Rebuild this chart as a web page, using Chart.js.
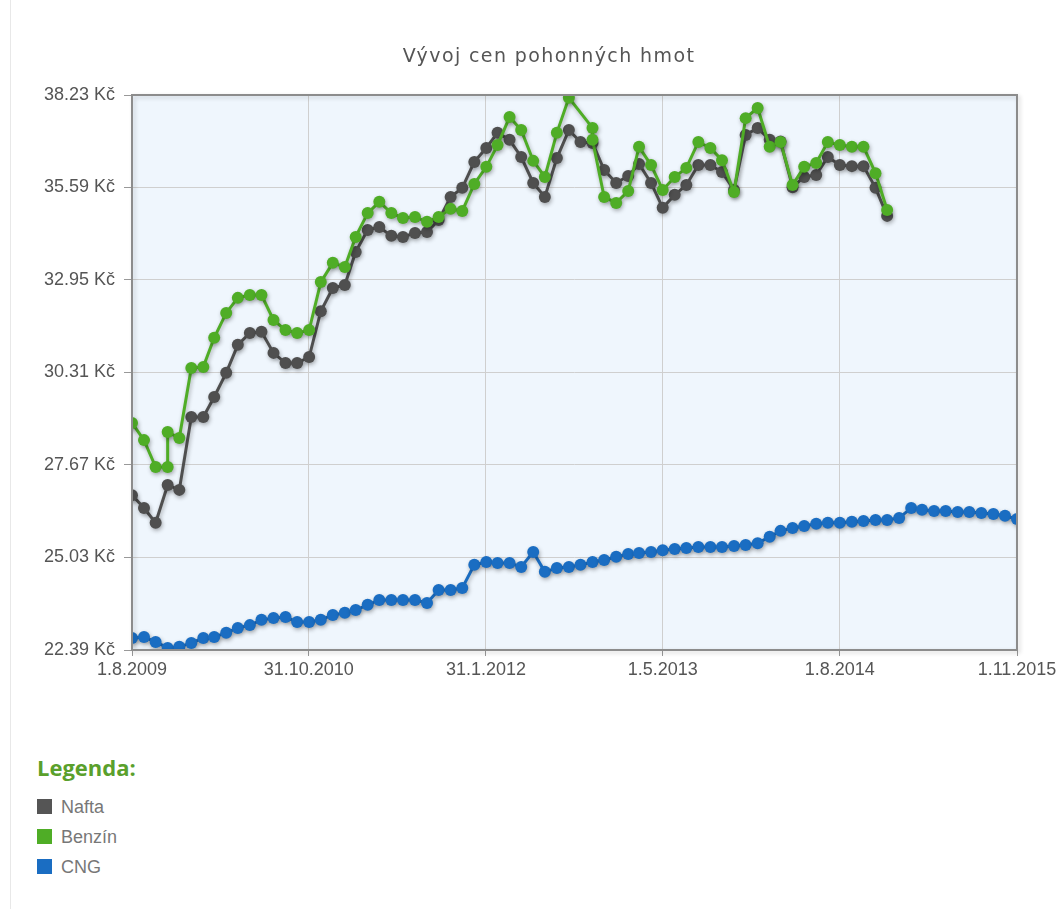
<!DOCTYPE html>
<html>
<head>
<meta charset="utf-8">
<title>Vývoj cen pohonných hmot</title>
<script src="https://cdn.jsdelivr.net/npm/chart.js@4.4.1/dist/chart.umd.min.js"></script>
<style>
  body { margin: 0; background: #fff; font-family: "Liberation Sans", Arial, sans-serif; }
  #page { position: relative; width: 1064px; height: 909px; overflow: hidden; }
  #edge { position: absolute; left: 10px; top: 0; width: 1px; height: 909px; background: #e8e8e8; }
  #chartTitle { position: absolute; left: 0; top: 43px; width: 1098px; text-align: center; font-family: "DejaVu Sans", sans-serif; font-size: 19px; letter-spacing: 1.4px; line-height: 24px; color: #555; }
  #chartBox { position: absolute; left: 0; top: 0; width: 1064px; height: 690px; }
  #legend { position: absolute; left: 37px; top: 752px; }
  #legend h3 { margin: 0 0 10px 0; font-family: "Open Sans", sans-serif; font-size: 22px; font-weight: bold; color: #5aa02c; line-height: 30px; }
  #legend ul { list-style: none; margin: 0; padding: 0; }
  #legend li { height: 30px; line-height: 30px; font-size: 18px; color: #777; }
  #legend li span { display: inline-block; width: 15px; height: 15px; margin-right: 9px; vertical-align: -1px; }
</style>
</head>
<body>
<div id="page">
  <div id="edge"></div>
  <div id="chartBox"><canvas id="fuelChart" width="1064" height="690"></canvas></div>
  <div id="chartTitle">Vývoj cen pohonných hmot</div>
  <div id="legend">
    <h3>Legenda:</h3>
    <ul id="legendItems"></ul>
  </div>
</div>
<script>
// ceny v Kč za litr (kg u CNG)
const naftaDates = [
  "1.8.2009", "1.9.2009", "1.10.2009", "1.11.2009", "1.12.2009",
  "1.1.2010", "1.2.2010", "1.3.2010", "1.4.2010", "1.5.2010", "1.6.2010", "1.7.2010", "1.8.2010", "1.9.2010", "1.10.2010", "1.11.2010", "1.12.2010",
  "1.1.2011", "1.2.2011", "1.3.2011", "1.4.2011", "1.5.2011", "1.6.2011", "1.7.2011", "1.8.2011", "1.9.2011", "1.10.2011", "1.11.2011", "1.12.2011",
  "1.1.2012", "1.2.2012", "1.3.2012", "1.4.2012", "1.5.2012", "1.6.2012", "1.7.2012", "1.8.2012", "1.9.2012", "1.10.2012", "1.11.2012", "1.12.2012",
  "1.1.2013", "1.2.2013", "1.3.2013", "1.4.2013", "1.5.2013", "1.6.2013", "1.7.2013", "1.8.2013", "1.9.2013", "1.10.2013", "1.11.2013", "1.12.2013",
  "1.1.2014", "1.2.2014", "1.3.2014", "1.4.2014", "1.5.2014", "1.6.2014", "1.7.2014", "1.8.2014", "1.9.2014", "1.10.2014", "1.11.2014", "1.12.2014"
];
const naftaValues = [
  26.81, 26.44, 26.02, 27.10, 26.96,
  29.04, 29.04, 29.61, 30.30, 31.10, 31.44, 31.47, 30.87, 30.58, 30.58, 30.75, 32.06,
  32.72, 32.81, 33.75, 34.38, 34.46, 34.21, 34.18, 34.29, 34.32, 34.66, 35.32, 35.58,
  36.32, 36.72, 37.15, 36.95, 36.46, 35.72, 35.32, 36.43, 37.23, 36.89, 36.86, 36.09,
  35.72, 35.92, 36.26, 35.72, 35.01, 35.38, 35.66, 36.23, 36.23, 36.03, 35.52, 37.09,
  37.29, 36.95, 36.90, 35.60, 35.89, 35.95, 36.46, 36.23, 36.20, 36.20, 35.58, 34.78
];

const benzinDates = [
  "1.8.2009", "1.9.2009", "1.10.2009", "1.11.2009", "1.11.2009", "1.12.2009",
  "1.1.2010", "1.2.2010", "1.3.2010", "1.4.2010", "1.5.2010", "1.6.2010", "1.7.2010", "1.8.2010", "1.9.2010", "1.10.2010", "1.11.2010", "1.12.2010",
  "1.1.2011", "1.2.2011", "1.3.2011", "1.4.2011", "1.5.2011", "1.6.2011", "1.7.2011", "1.8.2011", "1.9.2011", "1.10.2011", "1.11.2011", "1.12.2011",
  "1.1.2012", "1.2.2012", "1.3.2012", "1.4.2012", "1.5.2012", "1.6.2012", "1.7.2012", "1.8.2012", "1.9.2012", "1.11.2012", "1.11.2012", "1.12.2012",
  "1.1.2013", "1.2.2013", "1.3.2013", "1.4.2013", "1.5.2013", "1.6.2013", "1.7.2013", "1.8.2013", "1.9.2013", "1.10.2013", "1.11.2013", "1.12.2013",
  "1.1.2014", "1.2.2014", "1.3.2014", "1.4.2014", "1.5.2014", "1.6.2014", "1.7.2014", "1.8.2014", "1.9.2014", "1.10.2014", "1.11.2014", "1.12.2014"
];
const benzinValues = [
  28.87, 28.38, 27.61, 27.61, 28.61, 28.44,
  30.44, 30.47, 31.30, 32.01, 32.44, 32.52, 32.52, 31.81, 31.52, 31.44, 31.52, 32.89,
  33.44, 33.32, 34.18, 34.86, 35.18, 34.86, 34.72, 34.75, 34.61, 34.75, 34.98, 34.92,
  35.69, 36.18, 36.80, 37.60, 37.23, 36.35, 35.89, 37.15, 38.15, 37.29, 36.95, 35.32,
  35.15, 35.49, 36.75, 36.23, 35.52, 35.89, 36.15, 36.89, 36.72, 36.37, 35.46, 37.57,
  37.86, 36.75, 36.89, 35.66, 36.18, 36.29, 36.89, 36.80, 36.75, 36.75, 36.00, 34.95
];

const cngDates = [
  "1.8.2009", "1.9.2009", "1.10.2009", "1.11.2009", "1.12.2009",
  "1.1.2010", "1.2.2010", "1.3.2010", "1.4.2010", "1.5.2010", "1.6.2010", "1.7.2010", "1.8.2010", "1.9.2010", "1.10.2010", "1.11.2010", "1.12.2010",
  "1.1.2011", "1.2.2011", "1.3.2011", "1.4.2011", "1.5.2011", "1.6.2011", "1.7.2011", "1.8.2011", "1.9.2011", "1.10.2011", "1.11.2011", "1.12.2011",
  "1.1.2012", "1.2.2012", "1.3.2012", "1.4.2012", "1.5.2012", "1.6.2012", "1.7.2012", "1.8.2012", "1.9.2012", "1.10.2012", "1.11.2012", "1.12.2012",
  "1.1.2013", "1.2.2013", "1.3.2013", "1.4.2013", "1.5.2013", "1.6.2013", "1.7.2013", "1.8.2013", "1.9.2013", "1.10.2013", "1.11.2013", "1.12.2013",
  "1.1.2014", "1.2.2014", "1.3.2014", "1.4.2014", "1.5.2014", "1.6.2014", "1.7.2014", "1.8.2014", "1.9.2014", "1.10.2014", "1.11.2014", "1.12.2014",
  "1.1.2015", "1.2.2015", "1.3.2015", "1.4.2015", "1.5.2015", "1.6.2015", "1.7.2015", "1.8.2015", "1.9.2015", "1.10.2015", "1.11.2015"
];
const cngValues = [
  22.73, 22.76, 22.62, 22.45, 22.48,
  22.59, 22.73, 22.76, 22.88, 23.02, 23.10, 23.25, 23.30, 23.33, 23.19, 23.19, 23.25,
  23.39, 23.45, 23.53, 23.68, 23.82, 23.82, 23.82, 23.82, 23.73, 24.10, 24.10, 24.16,
  24.82, 24.90, 24.87, 24.87, 24.76, 25.19, 24.62, 24.73, 24.76, 24.82, 24.90, 24.96,
  25.05, 25.13, 25.16, 25.19, 25.24, 25.27, 25.30, 25.33, 25.33, 25.33, 25.36, 25.39,
  25.44, 25.62, 25.79, 25.87, 25.93, 25.99, 26.02, 26.02, 26.05, 26.07, 26.10, 26.10,
  26.16, 26.44, 26.39, 26.36, 26.36, 26.33, 26.33, 26.30, 26.27, 26.22, 26.13
];

// popisky os
const xTickLabels = ["1.8.2009", "31.10.2010", "31.1.2012", "1.5.2013", "1.8.2014", "1.11.2015"];
const yTicks = [22.39, 25.03, 27.67, 30.31, 32.95, 35.59, 38.23];

const series = [
  { label: "Nafta", dates: naftaDates, values: naftaValues, color: "#4f4f4f" },
  { label: "Benzín", dates: benzinDates, values: benzinValues, color: "#4fad26" },
  { label: "CNG", dates: cngDates, values: cngValues, color: "#1a6dc2" },
];

function parseDate(s) {
  const p = s.split(".");
  return Date.UTC(+p[2], +p[1] - 1, +p[0]);
}

const xTicks = xTickLabels.map(parseDate);
const tickFont = { family: "'Liberation Sans', Arial, sans-serif", size: 18 };

// pozadí a rámeček grafu
const plotFrame = {
  id: "plotFrame",
  beforeDraw(chart) {
    const { ctx, chartArea: a } = chart;
    ctx.save();
    ctx.fillStyle = "#eff6fd";
    ctx.fillRect(a.left, a.top, a.width, a.height);
    ctx.restore();
  },
  afterDraw(chart) {
    const { ctx, chartArea: a } = chart;
    ctx.save();
    ctx.shadowColor = "rgba(0,0,0,0.18)";
    ctx.shadowBlur = 4;
    ctx.shadowOffsetX = 2;
    ctx.shadowOffsetY = 2;
    ctx.strokeStyle = "#8c8c8c";
    ctx.lineWidth = 2;
    ctx.strokeRect(a.left, a.top, a.width, a.height);
    ctx.restore();
  },
};

// stín pod čarami (jako ve flotu)
const lineShadow = {
  id: "lineShadow",
  beforeDatasetDraw(chart) {
    const ctx = chart.ctx;
    ctx.save();
    ctx.shadowColor = "rgba(0,0,0,0.3)";
    ctx.shadowBlur = 4;
    ctx.shadowOffsetX = 1;
    ctx.shadowOffsetY = 2;
  },
  afterDatasetDraw(chart) {
    chart.ctx.restore();
  },
};

const ctx = document.getElementById("fuelChart").getContext("2d");
new Chart(ctx, {
  type: "line",
  data: {
    datasets: series.map((s, i) => ({
      label: s.label,
      data: s.dates.map((d, j) => ({ x: parseDate(d), y: s.values[j] })),
      borderColor: s.color,
      backgroundColor: s.color,
      pointBackgroundColor: s.color,
      borderWidth: 3,
      pointRadius: 6,
      pointBorderWidth: 0,
      tension: 0,
      order: i === 1 ? 0 : 1,
    })),
  },
  options: {
    responsive: false,
    animation: false,
    layout: { padding: { top: 95, right: 47, bottom: 0, left: 0 } },
    plugins: {
      legend: { display: false },
      tooltip: { enabled: false },
    },
    scales: {
      x: {
        type: "linear",
        min: xTicks[0],
        max: xTicks[xTicks.length - 1],
        afterBuildTicks: (scale) => {
          scale.ticks = xTicks.map((v) => ({ value: v }));
        },
        afterFit: (scale) => {
          scale.height = 40;
        },
        ticks: {
          autoSkip: false,
          maxRotation: 0,
          padding: 3,
          color: "#555",
          font: tickFont,
          callback: (v, i) => xTickLabels[i],
        },
        grid: { color: "#cfcfcf", tickColor: "#999", tickLength: 6 },
        border: { display: false },
      },
      y: {
        min: yTicks[0],
        max: yTicks[yTicks.length - 1],
        afterBuildTicks: (scale) => {
          scale.ticks = yTicks.map((v) => ({ value: v }));
        },
        afterFit: (scale) => {
          scale.width = 132;
        },
        ticks: {
          padding: 9,
          color: "#555",
          font: tickFont,
          callback: (v) => v.toFixed(2) + " Kč",
        },
        grid: { color: "#cfcfcf", tickColor: "#999", tickLength: 8 },
        border: { display: false },
      },
    },
  },
  plugins: [plotFrame, lineShadow],
});

// legenda pod grafem
const legendList = document.getElementById("legendItems");
series.forEach((s) => {
  const li = document.createElement("li");
  const box = document.createElement("span");
  box.style.background = s.label === "Nafta" ? "#555" : s.color;
  li.appendChild(box);
  li.appendChild(document.createTextNode(s.label));
  legendList.appendChild(li);
});
</script>
</body>
</html>
